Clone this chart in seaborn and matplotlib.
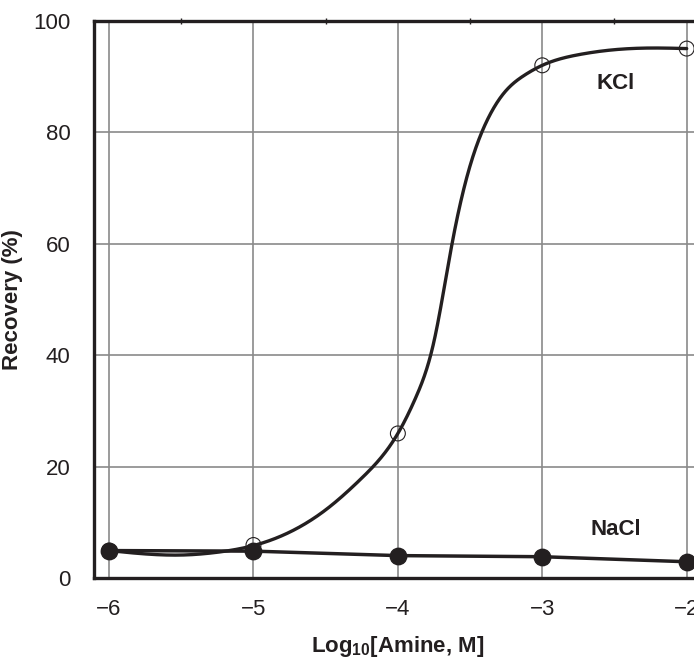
import numpy as np
import pandas as pd
import matplotlib
matplotlib.use("Agg")
import matplotlib.pyplot as plt
from matplotlib.ticker import MultipleLocator
import seaborn as sns

# Measured recoveries vs log10 amine concentration
log_amine = [-6, -5, -4, -3, -2]
kcl_recovery = [5.0, 6.0, 26.0, 92.0, 95.0]
nacl_recovery = [5.0, 4.9, 4.1, 3.9, 3.0]

# Guide points along the smoothed KCl trend line
kcl_trend_x = [-6.0, -5.75, -5.5, -5.25, -5.0, -4.75, -4.5, -4.25, -4.0, -3.875,
               -3.75, -3.625, -3.5, -3.375, -3.25, -3.125, -3.0, -2.75, -2.5,
               -2.25, -2.0]
kcl_trend_y = [5.0, 4.4, 4.2, 4.7, 5.9, 8.3, 12.3, 18.0, 26.0, 32.5,
               42.5, 60.0, 74.0, 82.5, 87.5, 90.2, 92.0, 93.9, 94.8,
               95.1, 95.0]

x_ticks = [-6, -5, -4, -3, -2]
y_ticks = [0, 20, 40, 60, 80, 100]


def natural_spline(xs, ys, n=60):
    """Natural cubic spline through the guide points."""
    xs = np.asarray(xs, float)
    ys = np.asarray(ys, float)
    k = len(xs)
    h = np.diff(xs)
    A = np.zeros((k, k))
    r = np.zeros(k)
    A[0, 0] = A[-1, -1] = 1.0
    for i in range(1, k - 1):
        A[i, i - 1] = h[i - 1]
        A[i, i] = 2 * (h[i - 1] + h[i])
        A[i, i + 1] = h[i]
        r[i] = 6 * ((ys[i + 1] - ys[i]) / h[i] - (ys[i] - ys[i - 1]) / h[i - 1])
    M = np.linalg.solve(A, r)
    out_x, out_y = [], []
    for i in range(k - 1):
        t = np.linspace(xs[i], xs[i + 1], n, endpoint=False)
        a = xs[i + 1] - t
        b = t - xs[i]
        y = (M[i] * a**3 + M[i + 1] * b**3) / (6 * h[i]) \
            + (ys[i] / h[i] - M[i] * h[i] / 6) * a \
            + (ys[i + 1] / h[i] - M[i + 1] * h[i] / 6) * b
        out_x.append(t)
        out_y.append(y)
    out_x.append([xs[-1]])
    out_y.append([ys[-1]])
    return np.concatenate(out_x), np.concatenate(out_y)


sns.set_theme(style="white")
plt.rcParams["font.family"] = ["Liberation Sans", "DejaVu Sans"]
plt.rcParams["axes.unicode_minus"] = True
plt.rcParams["mathtext.fontset"] = "custom"
plt.rcParams["mathtext.rm"] = "Liberation Sans:bold"
plt.rcParams["mathtext.bf"] = "Liberation Sans:bold"

ink = "#231f20"
fs = 16
fig = plt.figure(figsize=(6.94, 6.59), dpi=100)
ax = fig.add_axes([0.1359, 0.1222, 0.8744, 0.8464])

points = pd.DataFrame({"x": log_amine, "kcl": kcl_recovery, "nacl": nacl_recovery})
cx, cy = natural_spline(kcl_trend_x, kcl_trend_y)
curve = pd.DataFrame({"x": cx, "y": cy})

ax.grid(True, color="#8a8a8a", linewidth=1.2, zorder=0)
ax.set_axisbelow(True)

sns.lineplot(data=points, x="x", y="nacl", ax=ax, color=ink, linewidth=2.5,
             zorder=3, sort=False)
sns.lineplot(data=curve, x="x", y="y", ax=ax, color=ink, linewidth=2.4,
             zorder=4, sort=False)
ax.scatter(points["x"], points["kcl"], s=115, facecolors="none", edgecolors=ink,
           linewidths=0.8, zorder=5, clip_on=False)
ax.scatter(points["x"], points["nacl"], s=140, color=ink, zorder=6, clip_on=False)

ax.set_xlim(-6.102, -1.9)
ax.set_ylim(0, 100)
ax.set_xticks(x_ticks)
ax.set_yticks(y_ticks)
ax.xaxis.set_minor_locator(MultipleLocator(0.5))
ax.yaxis.set_minor_locator(MultipleLocator(10))

ax.tick_params(axis="both", which="major", direction="out", length=7, width=2.2,
               colors=ink, labelsize=fs, labelcolor=ink)
ax.tick_params(axis="y", which="major", pad=10)
ax.tick_params(axis="x", which="major", pad=8)
ax.tick_params(axis="both", which="minor", direction="out", length=3, width=1.0,
               colors=ink)
ax.tick_params(axis="x", which="minor", top=True, direction="inout", length=5)

for side in ["left", "bottom", "top"]:
    ax.spines[side].set_visible(True)
    ax.spines[side].set_color(ink)
    ax.spines[side].set_linewidth(2.4)
ax.spines["right"].set_visible(False)

ax.set_xlabel("Log$_{10}$[Amine, M]", fontsize=fs, fontweight="bold",
              color=ink, labelpad=10)
ax.set_ylabel("Recovery (%)", fontsize=fs, fontweight="bold", color=ink)
ax.yaxis.set_label_coords(-0.118, 0.5)

ax.text(-2.49, 88.7, "KCl", fontsize=fs, fontweight="bold", color=ink,
        ha="center", va="center")
ax.text(-2.49, 8.8, "NaCl", fontsize=fs, fontweight="bold", color=ink,
        ha="center", va="center")

fig.savefig("out.png", dpi=100)
